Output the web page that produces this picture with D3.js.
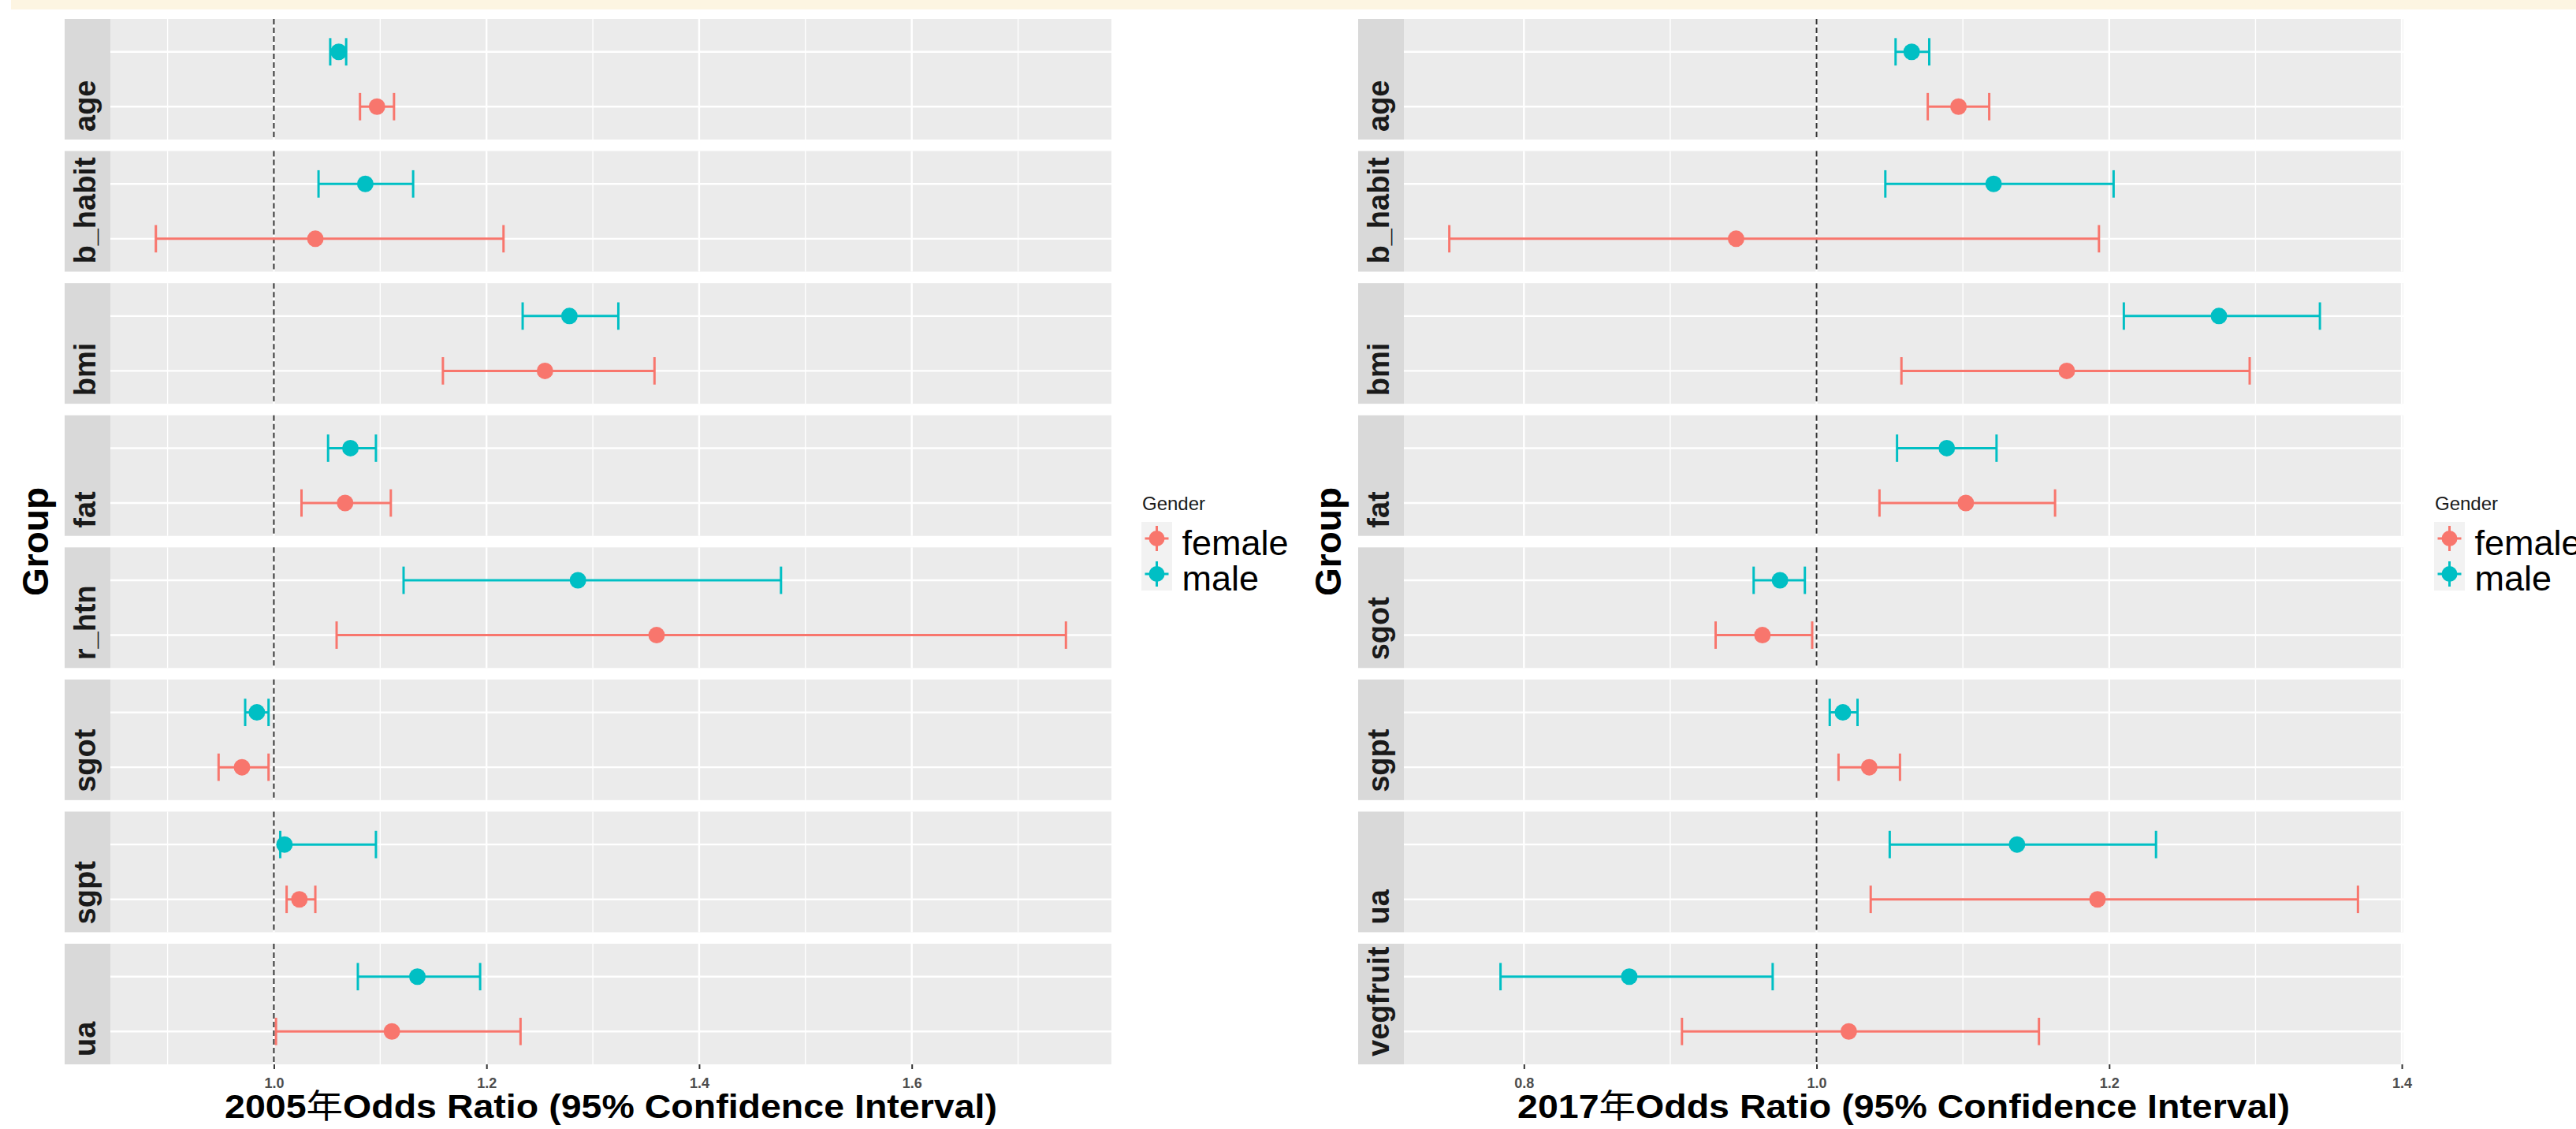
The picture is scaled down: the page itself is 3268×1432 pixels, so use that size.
<!DOCTYPE html>
<html>
<head>
<meta charset="utf-8">
<title>Odds Ratio by Gender</title>
<script src="https://d3js.org/d3.v7.min.js"></script>
<style>
  body { margin: 0; background: #fff; }
  svg { display: block; }
</style>
</head>
<body>
<svg id="chart" width="3268" height="1432"></svg>
<script>
// ---- data ----
var groups2005 = ["age", "b_habit", "bmi", "fat", "r_htn", "sgot", "sgpt", "ua"];
var female2005 = [1.097, 1.039, 1.255, 1.067, 1.360, 0.970, 1.024, 1.111];
var femaleLo2005 = [1.081, 0.889, 1.159, 1.026, 1.059, 0.948, 1.012, 1.002];
var femaleHi2005 = [1.113, 1.216, 1.358, 1.110, 1.745, 0.995, 1.039, 1.232];
var male2005 = [1.061, 1.086, 1.278, 1.072, 1.286, 0.984, 1.010, 1.135];
var maleLo2005 = [1.053, 1.042, 1.234, 1.051, 1.122, 0.973, 1.006, 1.079];
var maleHi2005 = [1.068, 1.131, 1.324, 1.096, 1.477, 0.995, 1.096, 1.194];

var groups2017 = ["age", "b_habit", "bmi", "fat", "sgot", "sgpt", "ua", "vegfruit"];
var female2017 = [1.097, 0.945, 1.171, 1.102, 0.963, 1.036, 1.192, 1.022];
var femaleLo2017 = [1.076, 0.749, 1.058, 1.043, 0.931, 1.015, 1.037, 0.908];
var femaleHi2017 = [1.118, 1.193, 1.296, 1.163, 0.997, 1.057, 1.370, 1.152];
var male2017 = [1.065, 1.121, 1.275, 1.089, 0.975, 1.018, 1.137, 0.872];
var maleLo2017 = [1.054, 1.047, 1.210, 1.055, 0.957, 1.009, 1.050, 0.784];
var maleHi2017 = [1.077, 1.203, 1.344, 1.123, 0.992, 1.028, 1.232, 0.970];

var ticks2005 = [1.0, 1.2, 1.4, 1.6];
var minor2005 = [0.9, 1.1, 1.3, 1.5, 1.7];
var ticks2017 = [0.8, 1.0, 1.2, 1.4];
var minor2017 = [0.9, 1.1, 1.3];

var genders = ["female", "male"];
var color = d3.scaleOrdinal().domain(genders).range(["#F8766D", "#00BFC4"]);

var font = "'Liberation Sans', Arial, 'Noto Sans CJK SC', sans-serif";
var svg = d3.select("#chart");

// thin yellow bar along the top
svg.append("rect").attr("x", 14).attr("y", 0).attr("width", 3254).attr("height", 12).attr("fill", "#fdf5e2");

function buildRows(groups, f, fLo, fHi, m, mLo, mHi) {
  var rows = [];
  groups.forEach(function(g, i) {
    rows.push({group: g, gender: "female", or: f[i], lo: fLo[i], hi: fHi[i]});
    rows.push({group: g, gender: "male", or: m[i], lo: mLo[i], hi: mHi[i]});
  });
  return rows;
}

function drawChart(opt) {
  var rows = buildRows(opt.groups, opt.f, opt.fLo, opt.fHi, opt.m, opt.mLo, opt.mHi);
  var g = svg.append("g");

  // ggplot style 5% expansion
  var lo = d3.min(rows, function(d) { return d.lo; }),
      hi = d3.max(rows, function(d) { return d.hi; }),
      pad = (hi - lo) * 0.05;
  var x = d3.scaleLinear().domain([lo - pad, hi + pad]).range([opt.left, opt.right]);

  var panel = d3.scaleBand().domain(opt.groups).range([24, 1350]).paddingInner(0.0871).paddingOuter(0);
  var bw = panel.bandwidth();
  var y = d3.scalePoint().domain(["male", "female"]).range([0, bw]).padding(0.6);
  var capH = y.step() * 0.25;

  opt.groups.forEach(function(grp) {
    var top = panel(grp);
    var p = g.append("g").attr("transform", "translate(0," + top + ")");

    p.append("rect").attr("x", opt.left - 58).attr("y", 0).attr("width", 58).attr("height", bw).attr("fill", "#D9D9D9");
    p.append("rect").attr("x", opt.left).attr("y", 0).attr("width", opt.right - opt.left).attr("height", bw).attr("fill", "#EBEBEB");

    p.selectAll(".minor").data(opt.minor).enter().append("line")
      .attr("x1", function(d) { return x(d); }).attr("x2", function(d) { return x(d); })
      .attr("y1", 0).attr("y2", bw).attr("stroke", "#fff").attr("stroke-width", 1.4);
    p.selectAll(".major").data(opt.ticks).enter().append("line")
      .attr("x1", function(d) { return x(d); }).attr("x2", function(d) { return x(d); })
      .attr("y1", 0).attr("y2", bw).attr("stroke", "#fff").attr("stroke-width", 2.4);
    p.selectAll(".hgrid").data(y.domain()).enter().append("line")
      .attr("x1", opt.left).attr("x2", opt.right)
      .attr("y1", function(d) { return y(d); }).attr("y2", function(d) { return y(d); })
      .attr("stroke", "#fff").attr("stroke-width", 2.4);

    // reference line at OR = 1
    p.append("line").attr("x1", x(1)).attr("x2", x(1)).attr("y1", 0).attr("y2", bw)
      .attr("stroke", "#333").attr("stroke-width", 2).attr("stroke-dasharray", "7,4");

    var sub = rows.filter(function(d) { return d.group === grp; });
    var bars = p.selectAll(".bar").data(sub).enter().append("g");
    bars.append("line")
      .attr("x1", function(d) { return x(d.lo); }).attr("x2", function(d) { return x(d.hi); })
      .attr("y1", function(d) { return y(d.gender); }).attr("y2", function(d) { return y(d.gender); })
      .attr("stroke", function(d) { return color(d.gender); }).attr("stroke-width", 3);
    ["lo", "hi"].forEach(function(k) {
      bars.append("line")
        .attr("x1", function(d) { return x(d[k]); }).attr("x2", function(d) { return x(d[k]); })
        .attr("y1", function(d) { return y(d.gender) - capH; }).attr("y2", function(d) { return y(d.gender) + capH; })
        .attr("stroke", function(d) { return color(d.gender); }).attr("stroke-width", 3);
    });
    bars.append("circle")
      .attr("cx", function(d) { return x(d.or); }).attr("cy", function(d) { return y(d.gender); })
      .attr("r", 10.5).attr("fill", function(d) { return color(d.gender); });

    // strip label, reads bottom to top
    p.append("text")
      .attr("transform", "translate(" + (opt.left - 19) + "," + (bw - 10) + ") rotate(-90)")
      .attr("font-family", font).attr("font-weight", "bold").attr("font-size", 38)
      .attr("fill", "#1a1a1a").text(grp);
  });

  // x axis
  var axis = g.append("g").attr("transform", "translate(0,1350)")
    .call(d3.axisBottom(x).tickValues(opt.ticks).tickFormat(d3.format(".1f")).tickSize(6).tickPadding(11));
  axis.select(".domain").remove();
  axis.selectAll(".tick line").attr("stroke", "#333").attr("stroke-width", 2);
  axis.selectAll(".tick text").attr("font-family", font).attr("font-size", 18)
    .attr("font-weight", "bold").attr("fill", "#4d4d4d");

  // axis titles
  var t = g.append("text").attr("x", (opt.left + opt.right) / 2).attr("y", 1418)
    .attr("text-anchor", "middle").attr("font-family", font).attr("font-weight", "bold")
    .attr("font-size", 42).attr("fill", "#000")
    .attr("textLength", 980).attr("lengthAdjust", "spacingAndGlyphs");
  t.append("tspan").text(opt.year);
  t.append("tspan").attr("font-weight", "normal").attr("font-family", "'Noto Sans CJK SC', sans-serif").text("年");
  t.append("tspan").text("Odds Ratio (95% Confidence Interval)");

  g.append("text")
    .attr("transform", "translate(" + opt.groupX + ",687) rotate(-90)")
    .attr("text-anchor", "middle").attr("font-family", font).attr("font-weight", "bold")
    .attr("font-size", 46).attr("fill", "#000").text("Group");

  // legend
  var lg = g.append("g").attr("transform", "translate(" + opt.legendX + ",0)");
  lg.append("text").attr("x", 1).attr("y", 647).attr("font-family", font).attr("font-size", 24)
    .attr("fill", "#1a1a1a").text("Gender");
  lg.append("rect").attr("x", 0).attr("y", 662).attr("width", 39).attr("height", 87).attr("fill", "#F2F2F2");
  var keys = lg.selectAll(".key").data(genders).enter().append("g")
    .attr("transform", function(d, i) { return "translate(19.5," + (683 + i * 45) + ")"; });
  keys.append("line").attr("x1", -15).attr("x2", 15).attr("y1", 0).attr("y2", 0)
    .attr("stroke", function(d) { return color(d); }).attr("stroke-width", 3);
  keys.append("line").attr("x1", 0).attr("x2", 0).attr("y1", -16).attr("y2", 16)
    .attr("stroke", function(d) { return color(d); }).attr("stroke-width", 3);
  keys.append("circle").attr("r", 10).attr("fill", function(d) { return color(d); });
  keys.append("text").attr("x", 32).attr("y", 21).attr("font-family", font).attr("font-size", 45)
    .attr("fill", "#000").text(function(d) { return d; });
}

drawChart({
  groups: groups2005, f: female2005, fLo: femaleLo2005, fHi: femaleHi2005,
  m: male2005, mLo: maleLo2005, mHi: maleHi2005,
  ticks: ticks2005, minor: minor2005, left: 140, right: 1410,
  year: "2005", groupX: 61, legendX: 1448
});
drawChart({
  groups: groups2017, f: female2017, fLo: femaleLo2017, fHi: femaleHi2017,
  m: male2017, mLo: maleLo2017, mHi: maleHi2017,
  ticks: ticks2017, minor: minor2017, left: 1781, right: 3049,
  year: "2017", groupX: 1701, legendX: 3088
});
</script>
</body>
</html>
